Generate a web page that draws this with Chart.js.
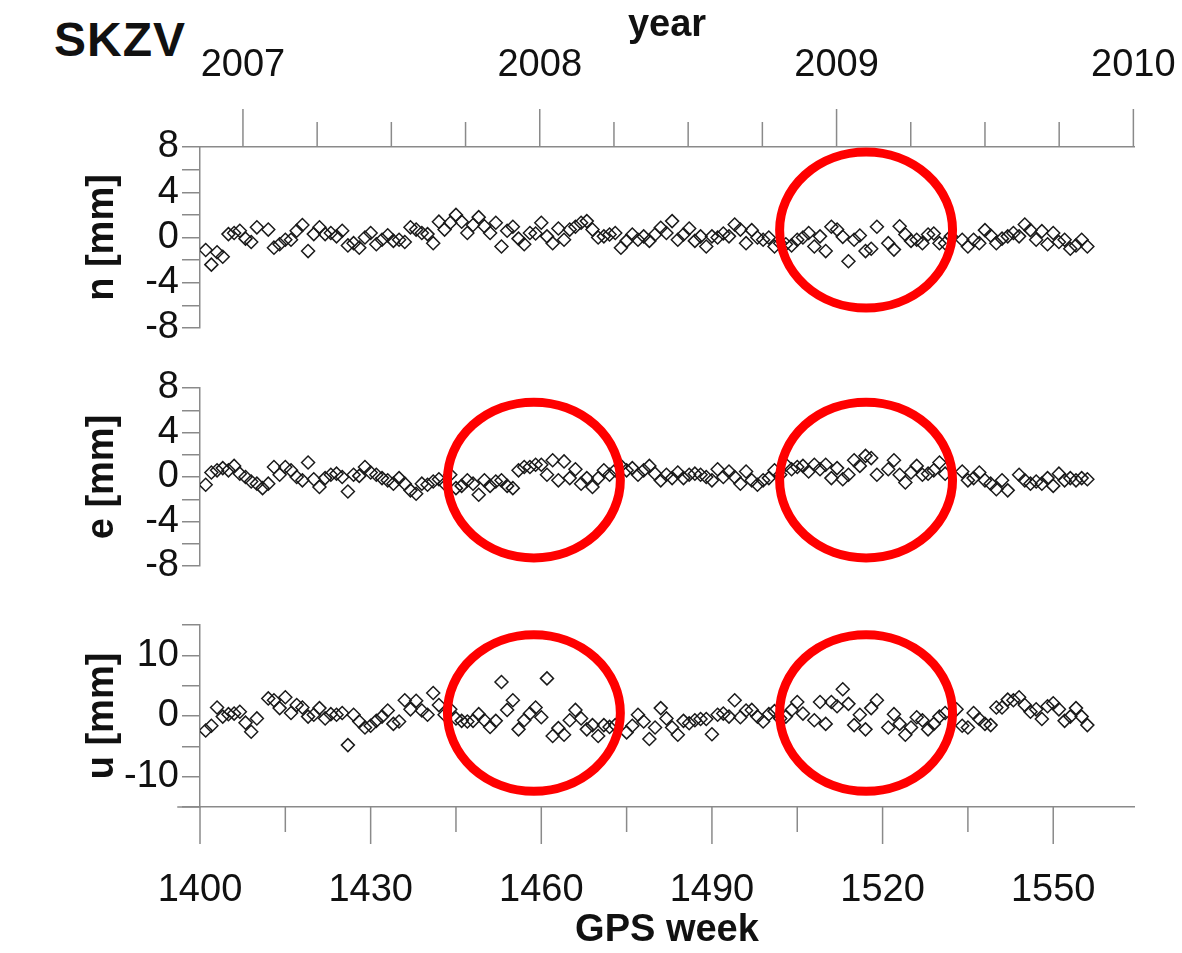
<!DOCTYPE html>
<html lang="en">
<head>
<meta charset="UTF-8">
<title>SKZV</title>
<script src="https://cdn.jsdelivr.net/npm/chart.js"></script>
<style>
  body { margin: 0; background: #fff; }
  #page { position: relative; width: 1182px; height: 953px; overflow: hidden; }
  #page canvas { position: absolute; left: 0; }
  #station { position: absolute; left: 54px; top: 12px; line-height: 1; letter-spacing: 1px;
             font: bold 48px "Liberation Sans", Arial, sans-serif; color: #111; }
</style>
</head>
<body>
<div id="page">
  <div id="station">SKZV</div>
  <canvas id="nChart" width="1182" height="360" style="top:0px"></canvas>
  <canvas id="eChart" width="1182" height="250" style="top:345px"></canvas>
  <canvas id="uChart" width="1182" height="363" style="top:590px"></canvas>
</div>
<script>
// GPS weeks of the weekly solutions
const weeks = [
  1401,1402,1403,1404,1405,1406,1407,1408,1409,1410,
  1411,1412,1413,1414,1415,1416,1417,1418,1419,1420,
  1421,1422,1423,1424,1425,1426,1427,1428,1429,1430,
  1431,1432,1433,1434,1435,1436,1437,1438,1439,1440,
  1441,1442,1443,1444,1445,1446,1447,1448,1449,1450,
  1451,1452,1453,1454,1455,1456,1457,1458,1459,1460,
  1461,1462,1463,1464,1465,1466,1467,1468,1469,1470,
  1471,1472,1473,1474,1475,1476,1477,1478,1479,1480,
  1481,1482,1483,1484,1485,1486,1487,1488,1489,1490,
  1491,1492,1493,1494,1495,1496,1497,1498,1499,1500,
  1501,1502,1503,1504,1505,1506,1507,1508,1509,1510,
  1511,1512,1513,1514,1515,1516,1517,1518,1519,1520,
  1521,1522,1523,1524,1525,1526,1527,1528,1529,1530,
  1531,1532,1533,1534,1535,1536,1537,1538,1539,1540,
  1541,1542,1543,1544,1545,1546,1547,1548,1549,1550,
  1551,1552,1553,1554,1555,1556
];

// residuals in mm (north, east, up)
const north = [
  -1.1,-2.4,-1.3,-1.7,0.3,0.4,0.6,-0.1,-0.4,0.9,
  null,0.7,-0.9,-0.6,-0.2,-0.2,0.6,1.1,-1.2,0.3,
  0.9,0.3,0.4,0.1,0.6,-0.7,-0.5,-0.9,0.0,0.4,
  -0.6,-0.2,0.2,-0.3,-0.2,-0.4,0.9,0.7,0.4,0.3,
  -0.5,1.4,0.7,1.3,2.0,1.4,0.4,1.1,1.8,1.0,
  0.4,1.3,-0.8,0.6,0.95,-0.1,-0.6,0.4,0.35,1.3,
  0.1,-0.5,0.8,-0.2,0.7,0.95,1.3,1.45,0.7,0.0,
  0.1,0.27,0.4,-0.9,-0.3,0.27,-0.2,0.1,-0.3,0.27,
  0.86,0.4,1.45,-0.2,0.27,0.8,-0.3,0.1,-0.8,0.1,
  0.0,0.35,0.1,1.15,0.7,-0.5,0.65,0.0,-0.2,0.0,
  -0.8,-0.5,-0.6,-0.7,-0.2,0.0,0.4,-0.8,0.1,-1.2,
  0.95,0.7,0.06,-2.1,-0.2,0.18,-1.2,-1.0,0.95,null,
  -0.5,-1.07,1.0,0.27,-0.3,-0.2,-0.5,0.27,0.35,-0.5,
  -0.5,0.1,null,-0.2,-0.8,-0.2,-0.5,0.65,0.18,-0.5,
  -0.1,0.1,0.4,0.1,1.15,0.65,-0.2,0.56,-0.6,0.4,
  -0.4,-0.2,-1.0,-0.7,-0.2,-0.8
];
const east = [
  -0.7,0.4,0.6,0.8,0.6,1.0,0.3,0.0,-0.4,-0.6,
  -1.0,-0.6,0.9,0.2,0.9,0.6,0.0,-0.3,1.3,-0.2,
  -0.9,-0.1,0.2,0.3,0.0,-1.3,0.2,0.1,0.9,0.4,
  0.2,-0.1,-0.3,-0.6,-0.1,-0.6,-1.2,-1.5,-0.6,-0.7,
  -0.4,-0.2,-0.6,0.2,-1.0,-0.8,-0.3,-0.6,-1.6,-0.3,
  -0.8,-0.4,-0.3,-0.8,-1.0,0.6,0.9,0.9,1.1,1.1,
  0.2,1.5,-0.3,1.4,-0.1,0.7,-0.6,-0.1,-0.9,-0.1,
  0.6,0.2,0.6,1.0,0.6,0.8,0.2,0.6,1.0,0.3,
  -0.3,0.2,-0.1,0.4,-0.1,0.2,0.3,0.2,0.0,-0.3,
  0.7,0.0,0.5,0.0,-0.6,0.5,-0.3,-0.7,-0.3,-0.1,
  0.6,0.2,1.1,0.7,0.9,1.0,0.5,1.1,0.7,1.1,
  -0.1,0.8,-0.2,0.2,1.5,1.0,1.9,1.7,0.2,null,
  0.7,1.5,0.2,-0.5,0.4,1.0,0.2,0.3,0.6,1.3,
  0.3,null,null,0.5,-0.3,-0.1,0.4,-0.3,-0.6,-1.1,
  -0.3,-1.2,null,0.2,-0.3,-0.6,-0.4,-0.6,-0.1,-0.8,
  0.3,-0.3,-0.1,-0.3,-0.1,-0.2
];
const up = [
  -2.4,-1.6,1.4,-0.1,0.3,0.4,0.7,-1.1,-2.6,-0.4,
  null,2.9,2.6,1.3,3.1,0.5,1.8,1.4,-0.1,0.2,
  1.3,-0.4,0.3,0.2,0.5,-4.8,0.2,-0.9,-1.9,-1.6,
  -0.8,-0.1,0.9,-1.3,-0.9,2.6,1.1,2.5,0.9,0.2,
  3.8,1.8,0.2,1.1,-0.4,-0.8,-0.9,-0.8,0.3,-0.7,
  -1.8,-0.8,5.6,1.0,2.6,-2.2,-0.7,0.4,1.4,-0.2,
  6.2,-3.3,-2.0,-3.1,-0.7,1.0,-0.4,-2.2,-1.5,-3.3,
  -1.5,-1.8,-1.5,null,-2.7,-1.6,0.2,-0.9,-3.8,-1.9,
  1.3,-0.4,-1.9,-3.1,-0.8,-1.2,-0.7,-0.5,-0.5,-3.0,
  0.2,0.4,-0.1,2.6,-0.2,0.9,1.0,-0.1,-0.9,0.3,
  0.8,-0.4,-0.1,1.0,2.3,0.4,null,-0.7,2.3,-1.3,
  2.3,1.6,4.4,2.0,-1.5,0.2,-2.2,1.3,2.6,null,
  -1.9,0.3,-1.3,-3.1,-1.9,-0.2,-0.7,-2.2,-1.3,-0.1,
  0.5,null,1.1,-1.6,-1.9,0.5,-0.5,-1.3,-1.5,1.4,
  1.4,2.7,2.6,3.1,1.8,0.7,1.1,-0.5,1.6,2.1,
  1.1,-0.8,-0.1,1.3,-0.1,-1.5
];

// axis ticks
const weekLabels = [1400, 1430, 1460, 1490, 1520, 1550];
const weekMinor = [1415, 1445, 1475, 1505, 1535];
const years = [2007, 2008, 2009, 2010];
const quarters = [2007.25, 2007.5, 2007.75, 2008.25, 2008.5, 2008.75, 2009.25, 2009.5, 2009.75];

// year -> GPS week (1 Jan 2007 is about week 1407.55)
const yearToWeek = y => 1407.55 + (y - 2007) * 52.18;

// red highlight rings (centre in week / mm, half sizes in week / mm)
const ringsN = [{ week: 1517.1, value: 0.66, dw: 15.2, dv: 6.9 }];
const ringsE = [{ week: 1458.7, value: -0.27, dw: 15.2, dv: 7.0 },
                { week: 1517.1, value: -0.27, dw: 15.2, dv: 7.0 }];
const ringsU = [{ week: 1458.7, value: 0.5, dw: 15.2, dv: 12.9 },
                { week: 1517.1, value: 0.5, dw: 15.2, dv: 12.9 }];

const axisGray = '#8a8a8a';
const weekMin = 1400, weekMax = 1564.2;

Chart.defaults.font.family = "'Liberation Sans', Arial, Helvetica, sans-serif";
Chart.defaults.font.size = 38;
Chart.defaults.color = '#111';

// draws red ellipses in data units
const ringPlugin = {
  id: 'rings',
  afterDatasetsDraw(chart, args, opts) {
    const { ctx, scales: { x, y } } = chart;
    ctx.save();
    ctx.strokeStyle = '#ff0000';
    ctx.lineWidth = 9;
    (opts.items || []).forEach(r => {
      const cx = x.getPixelForValue(r.week), cy = y.getPixelForValue(r.value);
      const rx = Math.abs(x.getPixelForValue(r.week + r.dw) - cx);
      const ry = Math.abs(y.getPixelForValue(r.value + r.dv) - cy);
      ctx.beginPath();
      ctx.ellipse(cx, cy, rx, ry, 0, 0, 2 * Math.PI);
      ctx.stroke();
    });
    ctx.restore();
  }
};

// tick marks of different lengths on the x axes
const markPlugin = {
  id: 'marks',
  afterDraw(chart, args, opts) {
    const ctx = chart.ctx;
    ctx.save();
    ctx.strokeStyle = axisGray;
    ctx.lineWidth = 1.5;
    (opts.items || []).forEach(m => {
      const s = chart.scales[m.scale];
      const y0 = m.side === 'top' ? s.bottom : s.top;
      const dir = m.side === 'top' ? -1 : 1;
      m.values.forEach(v => {
        const px = s.getPixelForValue(v);
        ctx.beginPath();
        ctx.moveTo(px, y0);
        ctx.lineTo(px, y0 + dir * m.length);
        ctx.stroke();
      });
      if (m.extendFrom !== undefined) {
        ctx.beginPath();
        ctx.moveTo(s.getPixelForValue(m.extendFrom), y0);
        ctx.lineTo(s.left, y0);
        ctx.stroke();
      }
    });
    ctx.restore();
  }
};

// keep label overhang from shrinking the plot area
function noOverhang(s) {
  s.paddingLeft = 0;
  s.paddingRight = 0;
  s.paddingTop = 0;
  s.paddingBottom = 0;
}

function yScale(min, max, step, labelStep, title) {
  return {
    type: 'linear', position: 'left', min: min, max: max,
    afterFit(s) { s.width = 200; },
    ticks: {
      stepSize: step, autoSkip: false, padding: 3,
      callback: v => (v % labelStep === 0 ? String(v) : '')
    },
    grid: { drawOnChartArea: false, drawTicks: true, tickLength: 18, color: axisGray, lineWidth: 1.5 },
    border: { display: true, color: axisGray, width: 1.5 },
    title: { display: true, text: title, font: { size: 38, weight: 'bold' }, padding: { top: 80, bottom: 0 } }
  };
}

function points(values) {
  const pts = [];
  weeks.forEach((w, i) => { if (values[i] !== null) pts.push({ x: w, y: values[i] }); });
  return pts;
}

function makeChart(id, values, yOpts, extraScales, xOpts, padding, rings, marks) {
  const scales = Object.assign({
    x: Object.assign({ type: 'linear', min: weekMin, max: weekMax }, xOpts),
    y: yOpts
  }, extraScales);
  return new Chart(document.getElementById(id), {
    type: 'scatter',
    data: {
      datasets: [{
        data: points(values),
        pointStyle: 'rectRot',
        pointRadius: 6.5,
        pointHoverRadius: 6.5,
        borderColor: '#1a1a1a',
        borderWidth: 1.5,
        backgroundColor: 'rgba(0,0,0,0)'
      }]
    },
    options: {
      responsive: false,
      animation: false,
      layout: { padding: padding },
      scales: scales,
      plugins: {
        legend: { display: false },
        tooltip: { enabled: false },
        rings: { items: rings },
        marks: { items: marks }
      }
    },
    plugins: [ringPlugin, markPlugin]
  });
}

// north panel with the year axis on top
makeChart('nChart', north, yScale(-8, 8, 2, 4, 'n [mm]'), {
  xTop: {
    type: 'linear', position: 'top', min: weekMin, max: weekMax,
    afterFit(s) { s.height = 147; noOverhang(s); },
    afterBuildTicks(s) { s.ticks = years.map(y => ({ value: yearToWeek(y) })); },
    ticks: { autoSkip: false, maxRotation: 0, padding: 59, callback: (v, i) => String(years[i]) },
    grid: { display: false, drawTicks: false, tickLength: 0 },
    border: { display: true, color: axisGray, width: 1.5 },
    title: { display: true, text: 'year', font: { size: 38, weight: 'bold' }, padding: { top: 3, bottom: 0 } }
  }
}, { display: false }, { top: 0, right: 48, bottom: 32, left: 0 }, ringsN, [
  { scale: 'xTop', side: 'top', length: 25, values: quarters.map(yearToWeek) },
  { scale: 'xTop', side: 'top', length: 38, values: years.map(yearToWeek) }
]);

// east panel
makeChart('eChart', east, yScale(-8, 8, 2, 4, 'e [mm]'), {}, { display: false },
  { top: 43, right: 48, bottom: 29, left: 0 }, ringsE, []);

// up panel with the GPS week axis
makeChart('uChart', up, yScale(-15, 15, 5, 10, 'u [mm]'), {}, {
  position: 'bottom',
  afterFit(s) { s.height = 146; noOverhang(s); },
  afterBuildTicks(s) { s.ticks = weekLabels.map(v => ({ value: v })); },
  ticks: { autoSkip: false, maxRotation: 0, padding: 61, callback: v => String(v) },
  grid: { display: false, drawTicks: false, tickLength: 0 },
  border: { display: true, color: axisGray, width: 1.5 },
  title: { display: true, text: 'GPS week', font: { size: 38, weight: 'bold' }, padding: { top: 0, bottom: 0 } }
}, { top: 35, right: 48, bottom: 0, left: 0 }, ringsU, [
  { scale: 'x', side: 'bottom', length: 37, values: weekLabels, extendFrom: 1396 },
  { scale: 'x', side: 'bottom', length: 25, values: weekMinor }
]);
</script>
</body>
</html>
